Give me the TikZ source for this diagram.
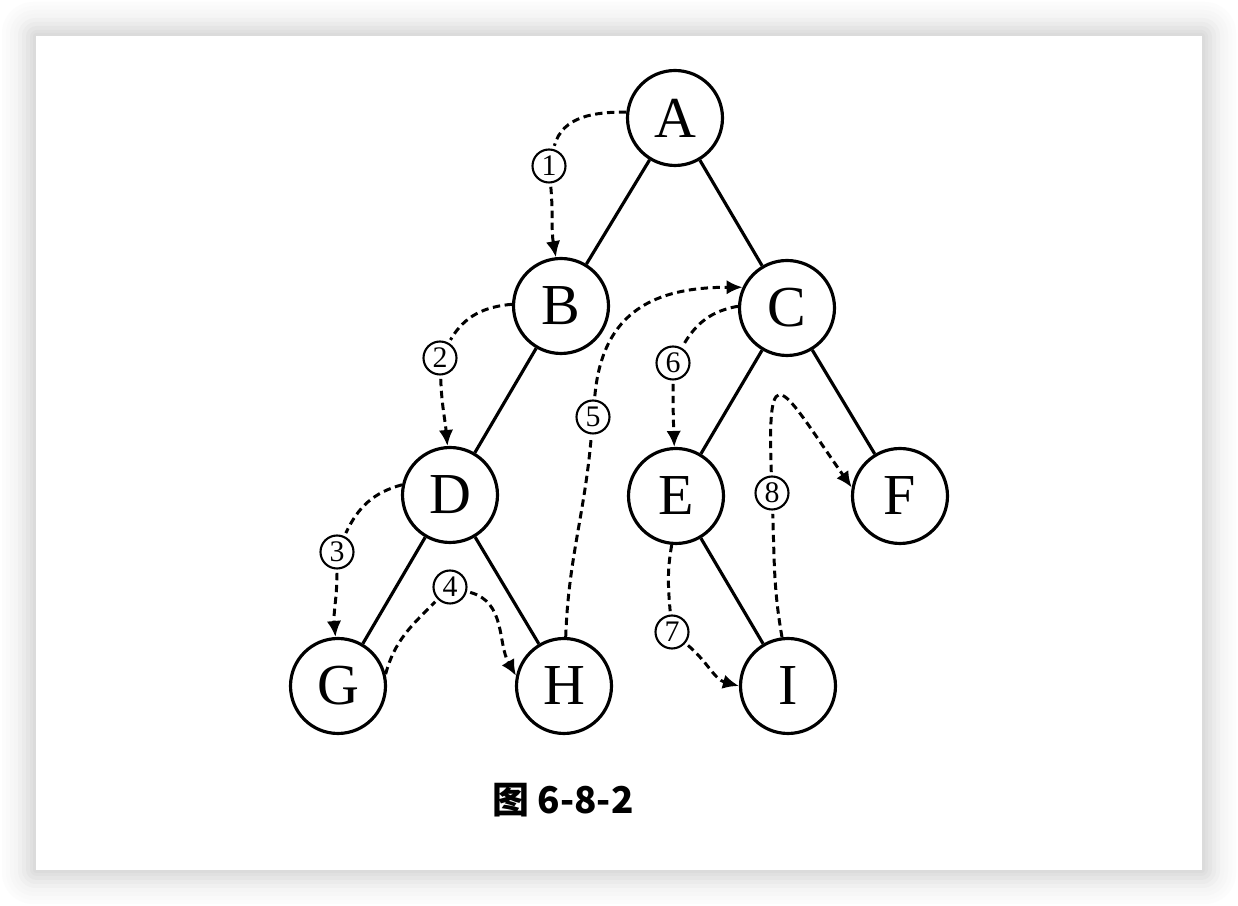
\documentclass[tikz,border=0pt]{standalone}
\usepackage{fontspec}
\setmainfont{Liberation Serif}
\newfontfamily\cjk{Noto Sans CJK SC}
\usetikzlibrary{arrows.meta,positioning}

\begin{document}
\begin{tikzpicture}[x=0.02cm,y=0.02cm,>={Latex[length=3.2mm,width=2.9mm]},
  vertex/.style={circle,draw,line width=1.8pt,minimum size=1.9cm,inner sep=0pt,
    font=\fontsize{33}{33}\selectfont},
  num/.style={circle,draw,line width=1.2pt,fill=white,minimum size=0.66cm,
    inner sep=0pt,outer sep=2.5pt,font=\fontsize{17}{17}\selectfont},
  branch/.style={line width=1.8pt},
  tour/.style={line width=1.7pt,dash pattern=on 4.2pt off 2.6pt}]
  % paper and its shadow
  \useasboundingbox (0,0) rectangle (1238,906);
  \fill[white] (0,0) rectangle (1238,906);
  \foreach \d/\g/\r in {34/1/18pt,30/2/16pt,26/3/14pt,22/4/12pt,18/6/10pt,14/8/8pt,
      10/10/6pt,6/12/4pt,3/14/2pt}
    \fill[black!\g,rounded corners=\r] ({36-\d},{36-\d}) rectangle ({1202+\d},{870+\d});
  \fill[white] (36,36) rectangle (1202,870);

  % tree
  \node[vertex] (A) at (675,788) {A};
  \node[vertex] (B) at (561,600) {B};
  \node[vertex] (C) at (787,598) {C};
  \node[vertex] (D) at (450,411) {D};
  \node[vertex] (E) at (676,410) {E};
  \node[vertex] (F) at (900,410) {F};
  \node[vertex] (G) at (338,220) {G};
  \node[vertex] (H) at (564,220) {H};
  \node[vertex] (I) at (788,220) {I};
  \draw[branch] (A) -- (B);
  \draw[branch] (A) -- (C);
  \draw[branch] (B) -- (D);
  \draw[branch] (C) -- (E);
  \draw[branch] (C) -- (F);
  \draw[branch] (D) -- (G);
  \draw[branch] (D) -- (H);
  \draw[branch] (E) -- (I);

  % visiting order
  \node[num] (n1) at (549,740) {1};
  \node[num] (n2) at (440,548) {2};
  \node[num] (n3) at (337,354) {3};
  \node[num] (n4) at (450,319) {4};
  \node[num] (n5) at (593,489) {5};
  \node[num] (n6) at (673,543) {6};
  \node[num] (n7) at (672,274) {7};
  \node[num] (n8) at (772,413) {8};
  \draw[tour] (A.173) to[out=180,in=75] (n1);
  \draw[tour,->] (n1) to[out=-85,in=100] (B.96);
  \draw[tour] (B.178) to[out=185,in=60] (n2);
  \draw[tour,->] (n2) to[out=-88,in=95] (D.93);
  \draw[tour] (D.168) to[out=195,in=65] (n3);
  \draw[tour,->] (n3) to[out=-90,in=95] (G.93);
  \draw[tour] (G.14) to[out=75,in=225] (n4);
  \draw[tour,->] (n4) to[out=-15,in=120] (H.168);
  \draw[tour] (H.88) to[out=88,in=-95] (n5);
  \draw[tour,->] (n5) to[out=85,in=180,looseness=1.2] (C.155);
  \draw[tour] (C.178) to[out=190,in=60] (n6);
  \draw[tour,->] (n6) to[out=-90,in=92] (E.92);
  \draw[tour] (E.265) to[out=-100,in=95] (n7);
  \draw[tour,->] (n7) to[out=-40,in=165] (I.180);
  \draw[tour] (I.97) to[out=100,in=-88] (n8);
  \draw[tour,->] (n8) to[out=92,in=125,looseness=3.8] (F.170);

  \node (cap) at (563,106) {\fontsize{21}{21}\selectfont\cjk\bfseries 图 6-8-2};
\end{tikzpicture}
\end{document}
